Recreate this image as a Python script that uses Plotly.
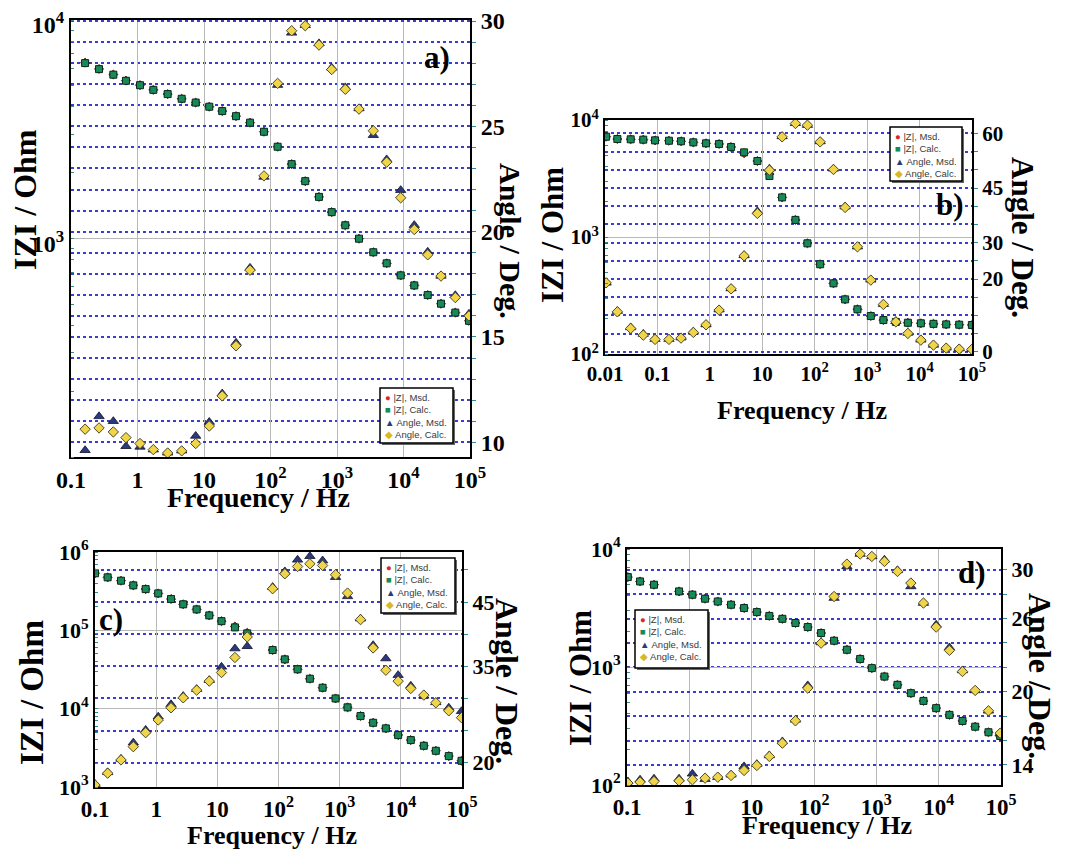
import plotly.graph_objects as go

# the page body keeps its default 8px margin, so the figure is sized to fit the window
OFF = 8
W, H = 1066 - OFF, 853 - OFF
SERIF = "Liberation Serif"
TEAL = "#2f8f8f"
BLUE = "#3b3bd6"
GRAY = "#b8b8b8"

# ---------------- data: panel a ----------------
freq_a = [0.163, 0.264, 0.433, 0.671, 1.09, 1.73, 2.84, 4.62, 7.50, 12.0, 18.8, 30.3, 49.2, 79.8,
          128, 208, 333, 536, 832, 1333, 2143, 3516, 5585, 9078, 14520, 23120, 36640, 60120, 96600]
z_msd_a = [6380, 5970, 5630, 5280, 5035, 4790, 4580, 4360, 4190, 4010, 3830, 3630, 3390, 3080,
           2630, 2190, 1830, 1550, 1320, 1150, 998, 865, 770, 678, 610, 551, 503, 458, 420]
z_calc_a = [6350, 5960, 5620, 5270, 5030, 4790, 4580, 4360, 4190, 4010, 3830, 3630, 3390, 3080,
            2630, 2190, 1830, 1550, 1320, 1150, 998, 865, 770, 678, 610, 551, 503, 458, 420]
ang_msd_a = [9.62, 11.23, 11.0, 9.81, 9.78, 9.65, 9.5, 9.6, 10.30, 10.96, 12.31, 14.72, 18.28, 22.6,
             26.96, 29.44, 29.8, 28.94, 27.78, 26.85, 25.85, 24.58, 23.43, 21.97, 20.31, 19.04, 17.9, 16.98, 16.1]
ang_calc_a = [10.62, 10.68, 10.49, 10.22, 9.94, 9.65, 9.49, 9.59, 9.94, 10.77, 12.2, 14.58, 18.17, 22.65,
              27.04, 29.54, 29.78, 28.86, 27.7, 26.76, 25.82, 24.79, 23.30, 21.61, 20.10, 18.90, 17.89, 16.87, 16.0]

# ---------------- data: panel b ----------------
freq_b = [0.0105, 0.0172, 0.0309, 0.0537, 0.090, 0.166, 0.282, 0.484, 0.845, 1.50, 2.54, 4.50, 8.07, 13.7,
          23.9, 42.9, 72.6, 127, 228, 380, 653, 1175, 2042, 3532, 5984, 10590, 18410, 32210, 57020, 99500]
z_msd_b = [7200, 6880, 6840, 6790, 6700, 6650, 6580, 6440, 6320, 6240, 5880, 5200, 4460, 3450,
           2180, 1400, 883, 585, 402, 293, 241, 211, 195, 188, 185, 183, 181, 179, 178, 177]
z_calc_b = [7200, 6880, 6840, 6790, 6700, 6650, 6580, 6440, 6320, 6240, 5880, 5290, 4460, 3320,
            2180, 1400, 883, 585, 402, 293, 241, 211, 195, 188, 185, 183, 181, 179, 178, 177]
ang_msd_b = [18.96, 11.2, 6.7, 4.9, 3.5, 3.5, 3.9, 5.5, 7.5, 11.6, 17.4, 26.5, 38.6, 50.3,
             59.2, 62.8, 62.3, 57.8, 50.3, 39.9, 28.9, 19.8, 13.1, 8.4, 5.2, 3.3, 1.9, 1.1, 0.9, 0.8]
ang_calc_b = [18.96, 10.99, 6.43, 4.59, 3.41, 3.41, 3.77, 5.33, 7.42, 11.46, 17.31, 26.37, 38.02, 49.92,
              59.07, 62.75, 62.28, 57.69, 50.1, 39.67, 28.85, 19.70, 13.02, 8.24, 5.05, 3.21, 1.84, 1.02, 0.74, 0.66]

# ---------------- data: panel c ----------------
freq_c = [0.1, 0.161, 0.266, 0.423, 0.673, 1.08, 1.75, 2.77, 4.59, 7.38, 11.7, 19.4, 30.8, 80.2,
          127, 205, 326, 526, 857, 1346, 2193, 3524, 5689, 9036, 14550, 23770, 37330, 60810, 98200]
z_msd_c = [535000, 475000, 430000, 375000, 336000, 296000, 251000, 215000, 185000, 155000, 131000,
           112000, 93000, 56000, 42600, 31800, 24100, 18500, 13500, 10400, 8050, 6610, 5600, 4600,
           3970, 3360, 2900, 2480, 2160]
z_calc_c = [535000, 475000, 430000, 375000, 336000, 296000, 251000, 215000, 185000, 155000, 131000,
            109000, 91500, 56000, 42600, 31800, 24100, 18500, 13500, 10400, 8050, 6610, 5600, 4600,
            3970, 3360, 2900, 2480, 2160]
ang_msd_c = [16.65, 18.48, 20.57, 23.11, 25.08, 27.14, 29.07, 30.36, 31.44, 32.84, 34.91, 37.76, 38.12, 47.33,
             49.77, 51.58, 52.14, 51.47, 48.88, 45.89, 42.42, 38.28, 36.21, 33.62, 31.96, 30.40, 29.38, 28.54, 28.0]
ang_calc_c = [16.5, 18.35, 20.42, 22.48, 24.66, 26.63, 28.54, 30.09, 31.29, 32.69, 34.03, 36.37, 39.57, 47.08,
              49.41, 50.54, 50.96, 50.7, 49.25, 46.4, 42.27, 37.86, 34.39, 32.69, 31.55, 30.51, 29.32, 28.07, 27.0]

# ---------------- data: panel d ----------------
freq_d = [0.103, 0.162, 0.271, 0.684, 1.12, 1.79, 2.86, 4.67, 7.55, 12.1, 19.2, 31.1, 50.4, 79.4,
          130, 210, 337, 550, 847, 1349, 2183, 3581, 5702, 9120, 14890, 24100, 38550, 62950, 97050]
z_msd_d = [5780, 5310, 4980, 4370, 4100, 3790, 3590, 3370, 3160, 2920, 2710, 2560, 2360, 2180,
           1940, 1670, 1400, 1170, 978, 830, 706, 600, 516, 448, 393, 349, 312, 280, 260]
z_calc_d = [5780, 5310, 4980, 4370, 4100, 3790, 3590, 3370, 3160, 2920, 2710, 2560, 2360, 2180,
            1940, 1670, 1400, 1170, 978, 830, 706, 600, 516, 448, 393, 349, 312, 280, 260]
ang_msd_d = [12.65, 12.79, 12.87, 12.87, 13.28, 12.84, 13.0, 13.2, 13.88, 14.07, 14.78, 15.93, 17.70, 20.52,
             24.04, 27.68, 30.27, 31.29, 31.09, 30.82, 29.95, 28.63, 27.27, 25.49, 23.63, 21.75, 20.11, 18.44, 16.61]
ang_calc_d = [12.52, 12.60, 12.65, 12.70, 12.79, 12.92, 13.0, 13.14, 13.55, 13.96, 14.70, 15.79, 17.62, 20.30,
              23.99, 27.81, 30.46, 31.29, 31.09, 30.68, 29.86, 28.91, 27.27, 25.30, 23.39, 21.66, 20.11, 18.44, 16.61]

# ---------------- tick labels ----------------
xtick_vals = [0.1, 1, 10, 100, 1000, 10000, 100000]
xtick_text = ["0.1", "1", "10", "10<sup>2</sup>", "10<sup>3</sup>", "10<sup>4</sup>", "10<sup>5</sup>"]
xtick_vals_b = [0.01, 0.1, 1, 10, 100, 1000, 10000, 100000]
xtick_text_b = ["0.01", "0.1", "1", "10", "10<sup>2</sup>", "10<sup>3</sup>", "10<sup>4</sup>", "10<sup>5</sup>"]

ztick_vals_a = [1000, 10000]
ztick_text_a = ["10<sup>3</sup>", "10<sup>4</sup>"]
ztick_vals_bd = [100, 1000, 10000]
ztick_text_bd = ["10<sup>2</sup>", "10<sup>3</sup>", "10<sup>4</sup>"]
ztick_vals_c = [1000, 10000, 100000, 1000000]
ztick_text_c = ["10<sup>3</sup>", "10<sup>4</sup>", "10<sup>5</sup>", "10<sup>6</sup>"]

atick_vals_a = [10, 15, 20, 25, 30]
atick_vals_b = [0, 20, 30, 45, 60]
atick_vals_c = [20, 35, 45]
atick_vals_d = [14, 20, 26, 30]
# spacing of the dotted angle grid in each panel
agrid_step = {"a": 1, "b": 5, "c": 5, "d": 2}


def PX(x):
    return (x - OFF) / W


def PY(y):
    return 1 - (y - OFF) / H


fig = go.Figure()

MARKERS = [
    dict(symbol="diamond", size=7, color="#d42a2a", line=dict(width=0.8, color="#401010")),
    dict(symbol="square", size=7, color="#168a58", line=dict(width=1, color="#0c2a1c")),
    dict(symbol="triangle-up", size=9, color="#2b3a7e", line=dict(width=0.8, color="#10102a")),
    dict(symbol="diamond", size=8, color="#f0d44a", line=dict(width=1, color="#4a4a2a")),
]


def add_panel(fr, zm, zc, am, ac, xa, yl, yr):
    for vals, mk, ya in ((zm, MARKERS[0], yl), (zc, MARKERS[1], yl), (am, MARKERS[2], yr), (ac, MARKERS[3], yr)):
        fig.add_trace(go.Scatter(x=fr, y=vals, mode="markers", marker=mk, showlegend=False,
                                 xaxis=xa, yaxis=ya, cliponaxis=True))


add_panel(freq_a, z_msd_a, z_calc_a, ang_msd_a, ang_calc_a, "x", "y", "y2")
add_panel(freq_b, z_msd_b, z_calc_b, ang_msd_b, ang_calc_b, "x2", "y3", "y4")
add_panel(freq_c, z_msd_c, z_calc_c, ang_msd_c, ang_calc_c, "x3", "y5", "y6")
add_panel(freq_d, z_msd_d, z_calc_d, ang_msd_d, ang_calc_d, "x4", "y7", "y8")


def xaxis(x0, x1, rng, tv, tt, size, anchor):
    return dict(domain=[PX(x0), PX(x1)], type="log", range=rng, tickvals=tv, ticktext=tt,
                showgrid=True, gridcolor=GRAY, gridwidth=1, showline=True, linecolor="black",
                linewidth=2, mirror=True, ticks="", zeroline=False, anchor=anchor, automargin=False,
                ticklabeloverflow="allow",
                tickfont=dict(family=SERIF, size=size, color="black", weight="bold"))


def yleft(y0, y1, rng, tv, tt, size, anchor, shift=0):
    return dict(domain=[PY(y1), PY(y0)], type="log", range=rng, tickvals=tv, ticktext=tt,
                showgrid=True, gridcolor=GRAY, gridwidth=1, showline=True, linecolor="black",
                linewidth=2, ticks="", zeroline=False, anchor=anchor, automargin=False,
                ticklabeloverflow="allow", ticklabelshift=shift,
                minor=dict(ticks="inside", ticklen=3, tickcolor=TEAL, tickwidth=1, dtick="D1", showgrid=False),
                tickfont=dict(family=SERIF, size=size, color="black", weight="bold"))


def yright(rng, tv, size, anchor, over, step):
    return dict(range=rng, tickvals=tv, ticktext=[str(v) for v in tv], overlaying=over, side="right",
                anchor=anchor, automargin=False, ticklabeloverflow="allow",
                showgrid=True, gridcolor=BLUE, gridwidth=1.6, griddash="dot", showline=True,
                linecolor="black", linewidth=2, ticks="outside", ticklen=4, tickcolor=TEAL,
                zeroline=False,
                minor=dict(tickmode="linear", tick0=0, dtick=step, ticks="outside", ticklen=4,
                           tickcolor=TEAL, showgrid=True, gridcolor=BLUE, gridwidth=1.6, griddash="dot"),
                tickfont=dict(family=SERIF, size=size, color="black", weight="bold"))


layout = dict(
    width=W, height=H, margin=dict(l=0, r=0, t=0, b=0, pad=0, autoexpand=False),
    paper_bgcolor="white", plot_bgcolor="white", showlegend=False,
    xaxis=xaxis(71, 470, [-1, 5], xtick_vals, xtick_text, 24, "y"),
    yaxis=yleft(20, 457, [2, 4], ztick_vals_a, ztick_text_a, 24, "x", shift=5),
    yaxis2=yright([9.3, 30.05], atick_vals_a, 24, "x", "y", agrid_step["a"]),
    xaxis2=xaxis(605, 972, [-2, 5], xtick_vals_b, xtick_text_b, 21, "y3"),
    yaxis3=yleft(120, 354, [2, 4], ztick_vals_bd, ztick_text_bd, 21, "x2"),
    yaxis4=yright([-0.6, 63.7], atick_vals_b, 21, "x2", "y3", agrid_step["b"]),
    xaxis3=xaxis(95, 462, [-1, 5], xtick_vals, xtick_text, 23, "y5"),
    yaxis5=yleft(552, 787, [3, 6], ztick_vals_c, ztick_text_c, 22, "x3"),
    yaxis6=yright([16.2, 52.8], atick_vals_c, 22, "x3", "y5", agrid_step["c"]),
    xaxis4=xaxis(627, 1001, [-1, 5], xtick_vals, xtick_text, 23, "y7"),
    yaxis7=yleft(549, 785, [2, 4], ztick_vals_bd, ztick_text_bd, 22, "x4"),
    yaxis8=yright([12.36, 31.7], atick_vals_d, 22, "x4", "y7", agrid_step["d"]),
)
fig.update_layout(**layout)

annotations = []
shapes = []


def text(x, y, s, size, angle=0, family=SERIF, bold=True, color="black", xanchor="center", yanchor="middle"):
    annotations.append(dict(x=PX(x), y=PY(y), xref="paper", yref="paper", text=s, showarrow=False,
                            textangle=angle, xanchor=xanchor, yanchor=yanchor,
                            font=dict(family=family, size=size, color=color,
                                      weight="bold" if bold else "normal")))


# axis titles
for (lx, ly, ls), (rx, ry, rs), (fx, fy, fs) in [
    ((25, 200, 32), (510, 241, 30), (258, 498, 28)),
    ((553, 235, 31), (1023, 238, 31), (802, 410, 26)),
    ((32, 693, 33), (507, 681, 32), (272, 835, 26)),
    ((580, 678, 31), (1040, 676, 32), (827, 825, 26)),
]:
    text(lx, ly, "IZI / Ohm", ls, angle=-90)
    text(rx, ry, "Angle / Deg.", rs, angle=90)
    text(fx, fy, "Frequency / Hz", fs)

# panel labels
text(437, 57, "a)", 31)
text(950, 204, "b)", 31)
text(111, 619, "c)", 31)
text(972, 572, "d)", 31)

# legends (one per panel)
legend_text = ('<span style="color:#d42a2a">●</span> |Z|, Msd.<br>'
               '<span style="color:#168a58">■</span> |Z|, Calc.<br>'
               '<span style="color:#2b3a7e">▲</span> Angle, Msd.<br>'
               '<span style="color:#d9b820">◆</span> Angle, Calc.')
for (x0, y0, x1, y1) in [(380, 388, 453, 443), (890, 127, 962, 181), (381, 558, 455, 613), (635, 610, 708, 668)]:
    shapes.append(dict(type="rect", xref="paper", yref="paper", x0=PX(x0 + 2), x1=PX(x1 + 2),
                       y0=PY(y1 + 2), y1=PY(y0 + 2), fillcolor="#666666", line=dict(width=0), layer="above"))
    shapes.append(dict(type="rect", xref="paper", yref="paper", x0=PX(x0), x1=PX(x1),
                       y0=PY(y1), y1=PY(y0), fillcolor="white", line=dict(width=1.5, color="black"),
                       layer="above"))
    annotations.append(dict(x=PX(x0 + 3), y=PY(y0 + 2), xref="paper", yref="paper", text=legend_text,
                            showarrow=False, xanchor="left", yanchor="top", align="left",
                            font=dict(family="Liberation Sans", size=9.5, color="#3a3a3a")))

fig.update_layout(annotations=annotations, shapes=shapes)
fig.write_html("out.html")
